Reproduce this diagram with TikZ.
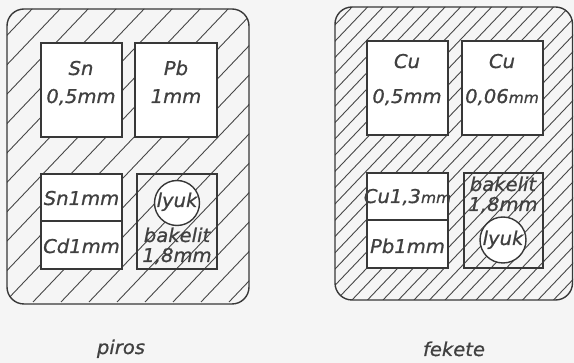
\documentclass[tikz,border=0pt]{standalone}
\usepackage{fontspec}
\newfontfamily\lettering{DejaVu Sans Oblique}[FakeStretch=1.03, FakeBold=0.8]
\begin{document}
\begin{tikzpicture}[x=1pt,y=-1pt,
  ink/.style={draw=black!78, line width=1.4pt},
  hatchline/.style={draw=black!72, line width=0.9pt},
  whitebox/.style={ink, fill=white},
  lbl/.style={font=\lettering\fontsize{19}{19}\selectfont, text=black!75, inner sep=0pt, anchor=base}]
  % paper
  \fill[black!4] (0,0) rectangle (574,363);
  \useasboundingbox (0,0) rectangle (574,363);

  % ---------- left panel: piros ----------
  \begin{scope}
    \clip[rounded corners=17pt] (7,9) rectangle (249,304);
    \foreach \i in {-10,...,9}
      \draw[hatchline] (33+\i*28,302) -- ++(340,-340*1.05);
  \end{scope}
  \draw[ink, rounded corners=17pt] (7,9) rectangle (249,304);

  \draw[whitebox] (41,43) rectangle (122,137);
  \draw[whitebox] (135,43) rectangle (217,137);
  \draw[whitebox] (41,174) rectangle (122,269);
  \draw[ink] (41,221) -- (122,221);
  \draw[ink] (137,174) rectangle (217,269);
  \node[whitebox, circle, minimum size=45pt, inner sep=0pt] (holeL) at (177,203) {};

  \node[lbl] (snA) at (81,75) {Sn};
  \node[lbl] (snB) at (81,103) {0,5mm};
  \node[lbl] (pbA) at (176,75) {Pb};
  \node[lbl] (pbB) at (176,103) {1mm};
  \node[lbl] (snC) at (81.5,205) {Sn1mm};
  \node[lbl] (cdC) at (81.5,253) {Cd1mm};
  \node[lbl] (lyL) at (177,207) {lyuk};
  \node[lbl] (bkL) at (177,242) {bakelit};
  \node[lbl] (mmL) at (177,262) {1,8mm};
  \node[lbl] (piros) at (121,354) {piros};

  % ---------- right panel: fekete ----------
  \begin{scope}
    \clip[rounded corners=17pt] (335,7) rectangle (573,300);
    \foreach \i in {-20,...,16}
      \draw[hatchline] (352+\i*15.5,300) -- ++(340,-340*1.05);
  \end{scope}
  \draw[ink, rounded corners=17pt] (335,7) rectangle (572.5,300);

  \draw[whitebox] (367,41) rectangle (448,135);
  \draw[whitebox] (462,41) rectangle (543,135);
  \draw[whitebox] (367,173) rectangle (448,268);
  \draw[ink] (367,220) -- (448,220);
  \draw[ink] (464,173) rectangle (543,268);
  \node[whitebox, circle, minimum size=46pt, inner sep=0pt] (holeR) at (503,240) {};

  \node[lbl] (cuA) at (407,68) {Cu};
  \node[lbl] (cuB) at (407,103) {0,5mm};
  \node[lbl] (cuC) at (502,68) {Cu};
  \node[lbl] (cuD) at (502,103) {0,06{\fontsize{15}{15}\selectfont mm}};
  \node[lbl] (cuE) at (407.5,203) {Cu1,3{\fontsize{15}{15}\selectfont mm}};
  \node[lbl] (pbE) at (407.5,253) {Pb1mm};
  \node[lbl] (bkR) at (503,191) {bakelit};
  \node[lbl] (mmR) at (503,211) {1,8mm};
  \node[lbl] (lyR) at (503,245) {lyuk};
  \node[lbl] (fekete) at (454,356) {fekete};
\end{tikzpicture}
\end{document}
